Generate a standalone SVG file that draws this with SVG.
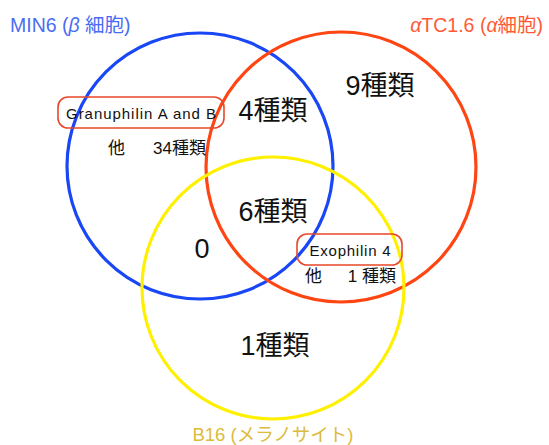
<svg xmlns="http://www.w3.org/2000/svg" width="549" height="445" viewBox="0 0 549 445">
<style>
text{font-family:"Liberation Sans","Noto Sans CJK JP",sans-serif;}
.c{fill:none;stroke-width:3.2;}
.big{font-size:27px;fill:#111;text-anchor:middle;}
.sm{font-size:17px;fill:#111;}
.box{fill:none;stroke:#e8482a;stroke-width:1.6;}
</style>
<rect width="549" height="445" fill="#fff"/>
<g id="connectors"></g>
<g id="set-min6">
<circle class="c" cx="200" cy="166" r="133" stroke="#1a47f5"/>
<text x="10" y="32" font-size="19.5" fill="#4a6cf2">MIN6 (<tspan font-style="italic">β</tspan> 細胞)</text>
</g>
<g id="set-atc">
<circle class="c" cx="341" cy="167" r="135" stroke="#ff4512"/>
<text x="543" y="32" font-size="19.5" fill="#ff5a35" text-anchor="end"><tspan font-style="italic">α</tspan>TC1.6 (<tspan font-style="italic">α</tspan>細胞)</text>
</g>
<g id="set-b16">
<circle class="c" cx="273" cy="288" r="131" stroke="#fff000"/>
<text x="273" y="441" font-size="18.5" fill="#dcbb3c" text-anchor="middle">B16 (メラノサイト)</text>
</g>
<g id="region-min6-atc"><text class="big" x="273" y="120">4種類</text></g>
<g id="region-atc"><text class="big" x="380" y="95">9種類</text></g>
<g id="region-all"><text class="big" x="273" y="221">6種類</text></g>
<g id="region-min6-b16"><text class="big" x="202" y="258">0</text></g>
<g id="region-b16"><text class="big" x="275" y="355">1種類</text></g>
<g id="region-min6">
<rect class="box" x="58" y="97" width="166" height="31" rx="10"/>
<text x="141" y="119" font-size="15" fill="#111" text-anchor="middle" textLength="150">Granuphilin A and B</text>
<text class="sm" x="108" y="154">他</text>
<text class="sm" x="206" y="154" text-anchor="end">34種類</text>
</g>
<g id="region-atc-b16">
<rect class="box" x="297" y="234" width="105" height="31" rx="10"/>
<text x="350" y="256" font-size="15" fill="#111" text-anchor="middle" textLength="81">Exophilin 4</text>
<text class="sm" x="305" y="282">他</text>
<text class="sm" x="396" y="282" text-anchor="end">1 種類</text>
</g>
</svg>
